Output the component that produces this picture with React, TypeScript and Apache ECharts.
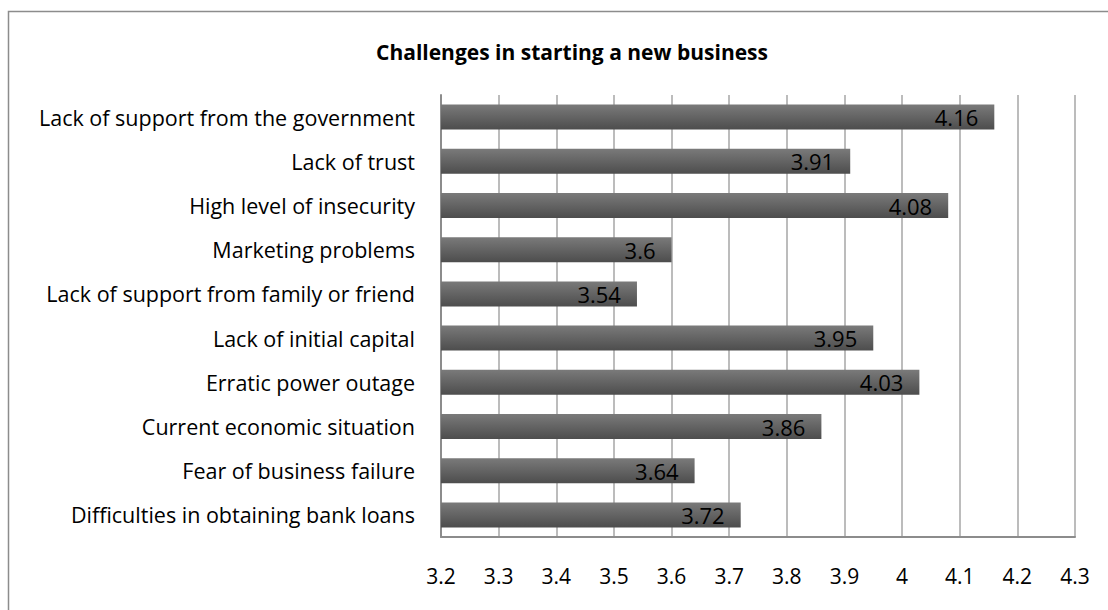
import React, { useEffect, useRef } from "react";
import * as echarts from "echarts";

const categories = [
  "Difficulties in obtaining bank loans",
  "Fear of business failure",
  "Current economic situation",
  "Erratic power outage",
  "Lack of initial capital",
  "Lack of support from family or friend",
  "Marketing problems",
  "High level of insecurity",
  "Lack of trust",
  "Lack of support from the government",
];
const values = [3.72, 3.64, 3.86, 4.03, 3.95, 3.54, 3.6, 4.08, 3.91, 4.16];
const axisMin = 3.2;
const axisMax = 4.3;
const axisStep = 0.1;
const title = "Challenges in starting a new business";

const FONT = "'Open Sans', 'Noto Sans', sans-serif";

export default function App() {
  const ref = useRef<HTMLDivElement>(null);
  useEffect(() => {
    document.body.style.margin = "0";
    if (!ref.current) return;
    const chart = echarts.init(ref.current, undefined, { renderer: "svg" });
    chart.setOption({
      animation: false,
      backgroundColor: "#ffffff",
      title: {
        text: title,
        left: 567,
        top: 36,
        textAlign: "center",
        textStyle: { fontFamily: FONT, fontSize: 21, fontWeight: "bold", color: "#000" },
      },
      graphic: [
        {
          type: "rect",
          shape: { x: 8.5, y: 11.5, width: 1200, height: 700 },
          style: { fill: "none", stroke: "#8c8c8c", lineWidth: 1.5 },
          silent: true,
        },
      ],
      grid: { left: 441, right: 33, top: 95, bottom: 73, containLabel: false },
      xAxis: {
        type: "value",
        min: axisMin,
        max: axisMax,
        interval: axisStep,
        axisLine: { show: true, lineStyle: { color: "#8c8c8c", width: 2 } },
        axisTick: { show: false },
        splitLine: { show: true, lineStyle: { color: "#a6a6a6", width: 1.5 } },
        axisLabel: {
          margin: 28,
          fontFamily: FONT,
          fontSize: 21,
          color: "#000",
          formatter: (v: number) => String(Math.round(v * 10) / 10),
        },
      },
      yAxis: {
        type: "category",
        data: categories,
        axisLine: { show: true, lineStyle: { color: "#8c8c8c", width: 2 } },
        axisTick: { show: false },
        axisLabel: { margin: 26, fontFamily: FONT, fontSize: 21.5, color: "#000" },
      },
      series: [
        {
          type: "bar",
          data: values,
          barWidth: 25,
          itemStyle: {
            color: new echarts.graphic.LinearGradient(0, 0, 0, 1, [
              { offset: 0, color: "#7a7a7a" },
              { offset: 1, color: "#4d4d4d" },
            ]),
          },
          label: {
            show: true,
            position: "insideRight",
            distance: 16,
            fontFamily: FONT,
            fontSize: 22,
            color: "#000",
          },
        },
      ],
    });
    return () => chart.dispose();
  }, []);
  return <div ref={ref} style={{ width: 1108, height: 610 }} />;
}
